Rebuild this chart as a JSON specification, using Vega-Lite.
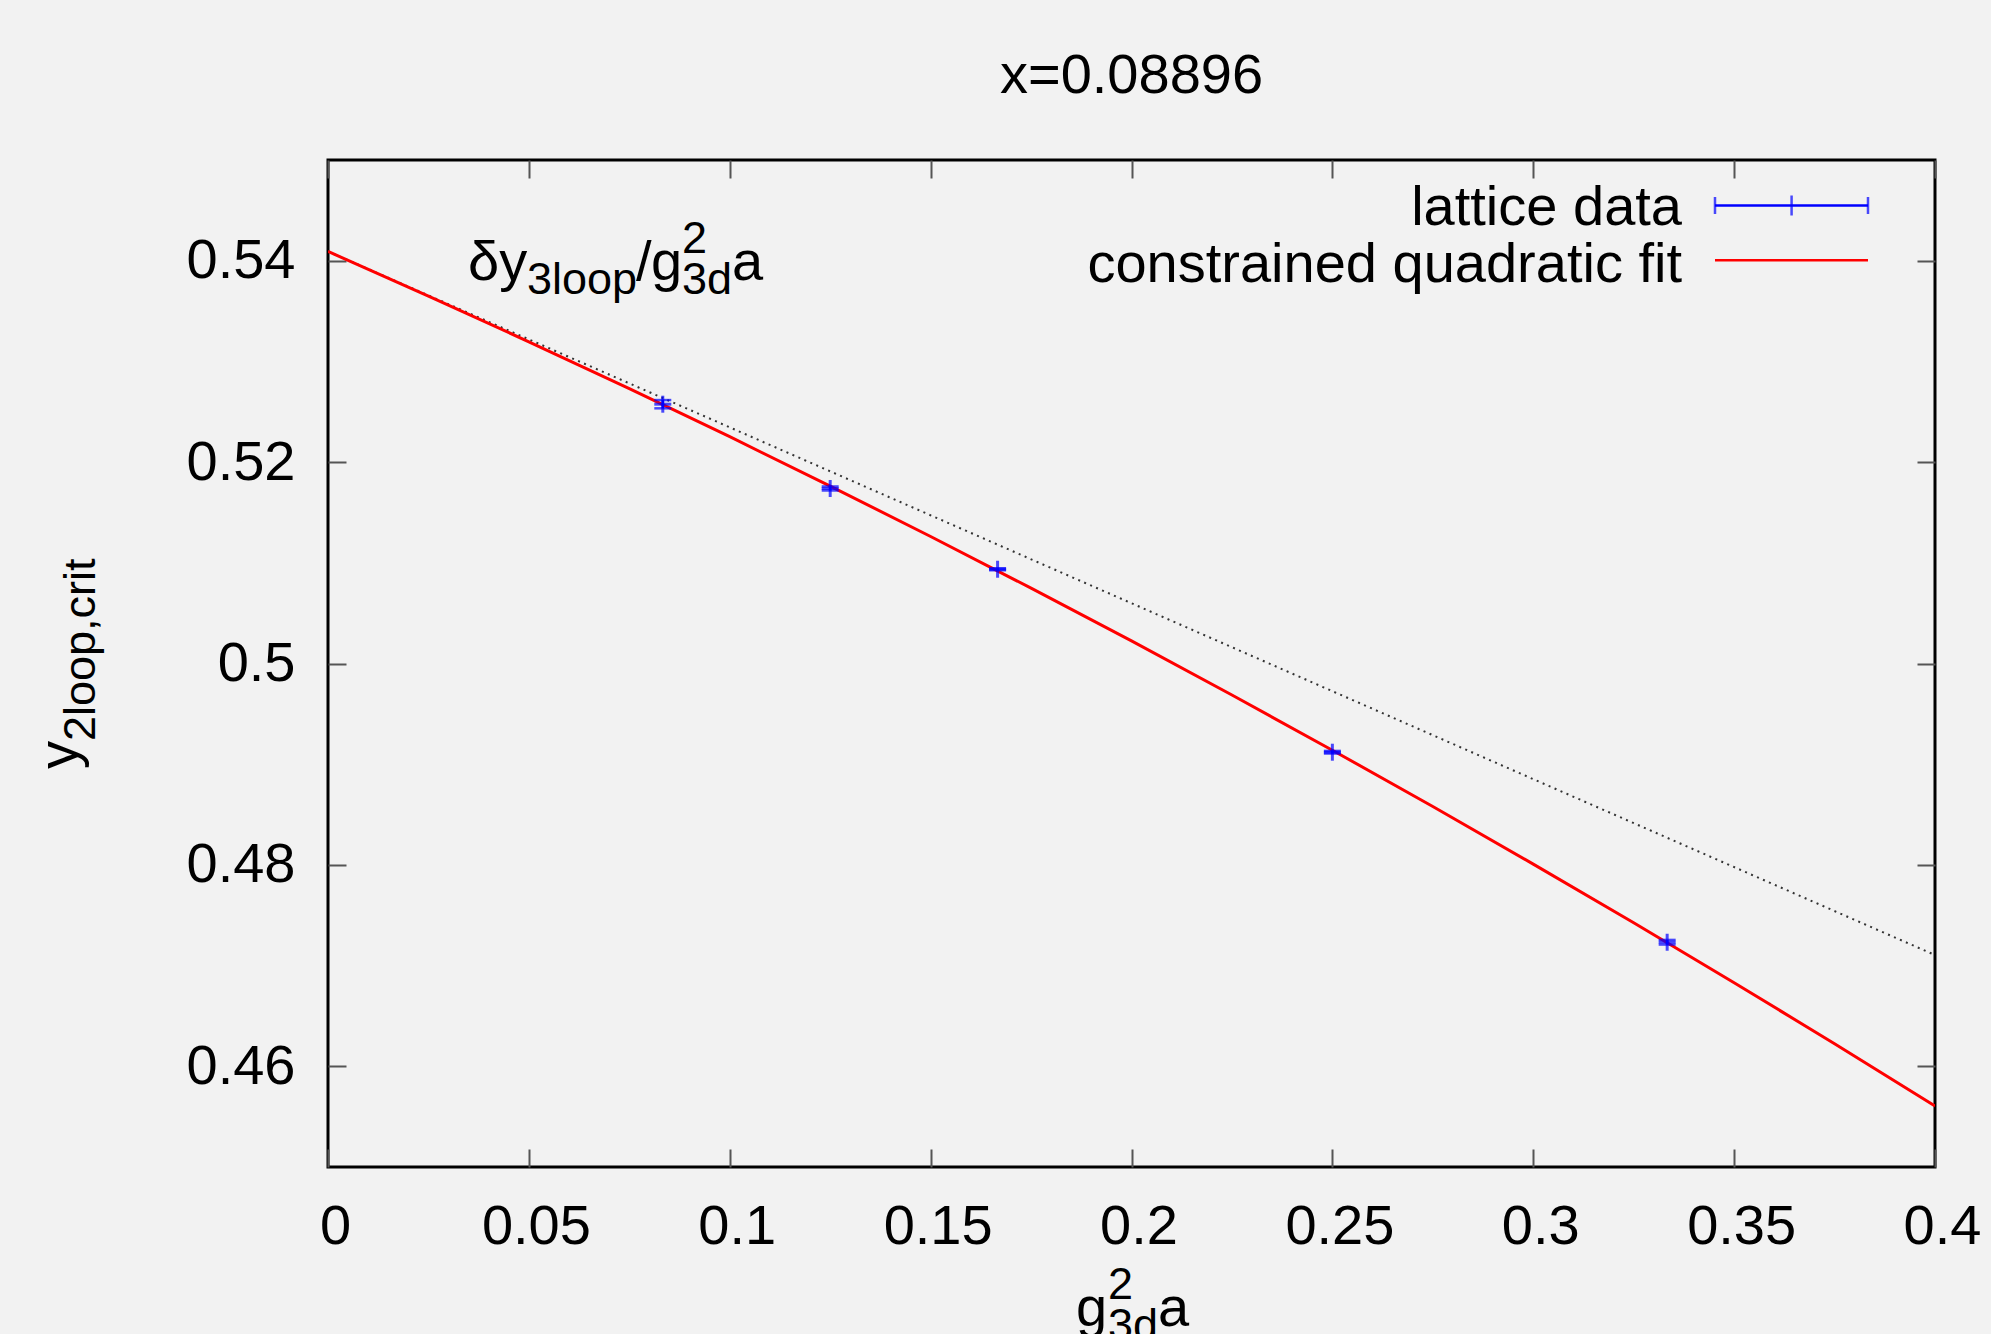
{
  "$schema": "https://vega.github.io/schema/vega-lite/v6.json",
  "width": 1607,
  "height": 1007,
  "autosize": "none",
  "padding": {"left": 328, "top": 160, "right": 56, "bottom": 167},
  "background": "#f2f2f2",
  "config": {
    "view": {"stroke": "black", "strokeWidth": 3, "fill": "#f2f2f2"},
    "font": "Liberation Sans"
  },
  "title": {"text": "x=0.08896", "frame": "group", "anchor": "middle", "orient": "top", "offset": 10, "baseline": "alphabetic", "fontSize": 56, "font": "Liberation Sans", "fontWeight": "normal", "color": "black"},
  "datasets": {
    "lin": [{"x": 0, "y": 0.54092}, {"x": 0.4, "y": 0.47105}],
    "fit": [
      {"x": 0, "y": 0.54092}, {"x": 0.025, "y": 0.53649}, {"x": 0.05, "y": 0.53195}, {"x": 0.075, "y": 0.52729},
      {"x": 0.1, "y": 0.52252}, {"x": 0.125, "y": 0.51762}, {"x": 0.15, "y": 0.51261}, {"x": 0.175, "y": 0.50748},
      {"x": 0.2, "y": 0.50224}, {"x": 0.225, "y": 0.49687}, {"x": 0.25, "y": 0.49139}, {"x": 0.275, "y": 0.4858},
      {"x": 0.3, "y": 0.48008}, {"x": 0.325, "y": 0.47425}, {"x": 0.35, "y": 0.4683}, {"x": 0.375, "y": 0.46224},
      {"x": 0.4, "y": 0.45606}
    ],
    "pts": [
      {"x": 0.083333, "y": 0.52575, "ylo": 0.52534, "yhi": 0.52616},
      {"x": 0.125, "y": 0.51738, "ylo": 0.51718, "yhi": 0.51758},
      {"x": 0.166667, "y": 0.50936, "ylo": 0.50926, "yhi": 0.50946},
      {"x": 0.25, "y": 0.49119, "ylo": 0.49106, "yhi": 0.49132},
      {"x": 0.333333, "y": 0.47232, "ylo": 0.47209, "yhi": 0.47255}
    ],
    "legrule": [
      {"series": "lattice data", "x1": 0.345238, "x2": 0.383321, "y": 0.545482},
      {"series": "constrained quadratic fit", "x1": 0.345238, "x2": 0.383321, "y": 0.54004}
    ],
    "legcap": [{"x": 0.345238, "y": 0.545482}, {"x": 0.383321, "y": 0.545482}],
    "legmid": [{"x": 0.364305, "y": 0.545482}],
    "legtext": [
      {"x": 0.337024, "y": 0.543545, "t": "lattice data"},
      {"x": 0.337024, "y": 0.537885, "t": "constrained quadratic fit"}
    ],
    "txt_main": [
      {"x": 0.034847, "y": 0.538083, "t": "δy"},
      {"x": 0.076664, "y": 0.538083, "t": "/"},
      {"x": 0.080398, "y": 0.538083, "t": "g"},
      {"x": 0.10056, "y": 0.538083, "t": "a"},
      {"x": 0.186185, "y": 0.43421, "t": "g"},
      {"x": 0.206595, "y": 0.43421, "t": "a"}
    ],
    "txt_sub": [
      {"x": 0.049533, "y": 0.538083, "t": "3loop"},
      {"x": 0.088114, "y": 0.538083, "t": "3d"},
      {"x": 0.19415, "y": 0.43421, "t": "3d"}
    ],
    "txt_sup": [
      {"x": 0.088114, "y": 0.538083, "t": "2"},
      {"x": 0.19415, "y": 0.43421, "t": "2"}
    ],
    "ytitle_main": [{"x": -0.062476, "y": 0.489523, "t": "y"}],
    "ytitle_sub": [{"x": -0.062476, "y": 0.492304, "t": "2loop,crit"}]
  },
  "layer": [
    {
      "data": {"name": "lin"},
      "mark": {"type": "line", "color": "#333333", "strokeWidth": 2, "strokeDash": [2, 4.5], "clip": true},
      "encoding": {
        "x": {"field": "x", "type": "quantitative", "scale": {"domain": [0, 0.4], "nice": false, "zero": false},
          "axis": {"orient": "bottom", "values": [0, 0.05, 0.1, 0.15, 0.2, 0.25, 0.3, 0.35, 0.4], "labelExpr": "format(datum.value, '~g')",
            "tickSize": -18, "tickColor": "#555555", "tickWidth": 2, "labelPadding": 50, "labelFontSize": 56, "labelFont": "Liberation Sans",
            "labelColor": "black", "labelOffset": 7, "labelBaseline": "top", "labelFlush": false, "labelOverlap": false, "domain": false, "grid": false, "title": null}},
        "y": {"field": "y", "type": "quantitative", "scale": {"domain": [0.45, 0.55], "nice": false, "zero": false},
          "axis": {"orient": "left", "values": [0.46, 0.48, 0.5, 0.52, 0.54], "labelExpr": "format(datum.value, '~g')",
            "tickSize": -18, "tickColor": "#555555", "tickWidth": 2, "labelPadding": 51, "labelFontSize": 56, "labelFont": "Liberation Sans",
            "labelColor": "black", "labelAlign": "right", "labelBaseline": "middle", "labelFlush": false, "labelOverlap": false, "domain": false, "grid": false, "title": null}}
      }
    },
    {
      "data": {"name": "fit"},
      "mark": {"type": "line", "color": "#ff0000", "strokeWidth": 3, "clip": true},
      "encoding": {
        "x": {"field": "x", "type": "quantitative", "scale": {"domain": [0, 0.4], "nice": false, "zero": false},
          "axis": {"orient": "top", "values": [0, 0.05, 0.1, 0.15, 0.2, 0.25, 0.3, 0.35, 0.4], "labels": false,
            "tickSize": -18, "tickColor": "#555555", "tickWidth": 2, "domain": false, "grid": false, "title": null}},
        "y": {"field": "y", "type": "quantitative", "scale": {"domain": [0.45, 0.55], "nice": false, "zero": false},
          "axis": {"orient": "right", "values": [0.46, 0.48, 0.5, 0.52, 0.54], "labels": false,
            "tickSize": -18, "tickColor": "#555555", "tickWidth": 2, "domain": false, "grid": false, "title": null}}
      }
    },
    {
      "data": {"name": "pts"},
      "mark": {"type": "rule", "color": "#0000ff", "strokeWidth": 2.5},
      "encoding": {
        "x": {"field": "x", "type": "quantitative", "axis": null},
        "y": {"field": "ylo", "type": "quantitative", "axis": null},
        "y2": {"field": "yhi"}
      }
    },
    {
      "data": {"name": "pts"},
      "mark": {"type": "tick", "orient": "horizontal", "color": "#0000ff", "size": 17, "thickness": 2.5},
      "encoding": {
        "x": {"field": "x", "type": "quantitative", "axis": null},
        "y": {"field": "ylo", "type": "quantitative", "axis": null}
      }
    },
    {
      "data": {"name": "pts"},
      "mark": {"type": "tick", "orient": "horizontal", "color": "#0000ff", "size": 17, "thickness": 2.5},
      "encoding": {
        "x": {"field": "x", "type": "quantitative", "axis": null},
        "y": {"field": "yhi", "type": "quantitative", "axis": null}
      }
    },
    {
      "data": {"name": "pts"},
      "mark": {"type": "tick", "orient": "horizontal", "color": "#0000ff", "size": 17, "thickness": 3},
      "encoding": {
        "x": {"field": "x", "type": "quantitative", "axis": null},
        "y": {"field": "y", "type": "quantitative", "axis": null}
      }
    },
    {
      "data": {"name": "pts"},
      "mark": {"type": "tick", "orient": "vertical", "color": "#0000ff", "size": 17, "thickness": 3},
      "encoding": {
        "x": {"field": "x", "type": "quantitative", "axis": null},
        "y": {"field": "y", "type": "quantitative", "axis": null}
      }
    },
    {
      "data": {"name": "legrule"},
      "mark": {"type": "rule", "strokeWidth": 2.5},
      "encoding": {
        "x": {"field": "x1", "type": "quantitative", "axis": null},
        "x2": {"field": "x2"},
        "y": {"field": "y", "type": "quantitative", "axis": null},
        "color": {"field": "series", "type": "nominal", "scale": {"domain": ["lattice data", "constrained quadratic fit"], "range": ["#0000ff", "#ff0000"]}, "legend": null}
      }
    },
    {
      "data": {"name": "legcap"},
      "mark": {"type": "tick", "orient": "vertical", "color": "#0000ff", "size": 17, "thickness": 2.5},
      "encoding": {
        "x": {"field": "x", "type": "quantitative", "axis": null},
        "y": {"field": "y", "type": "quantitative", "axis": null}
      }
    },
    {
      "data": {"name": "legmid"},
      "mark": {"type": "tick", "orient": "vertical", "color": "#0000ff", "size": 20, "thickness": 2.5},
      "encoding": {
        "x": {"field": "x", "type": "quantitative", "axis": null},
        "y": {"field": "y", "type": "quantitative", "axis": null}
      }
    },
    {
      "data": {"name": "legtext"},
      "mark": {"type": "text", "align": "right", "baseline": "alphabetic", "fontSize": 56, "font": "Liberation Sans", "color": "black"},
      "encoding": {
        "x": {"field": "x", "type": "quantitative", "axis": null},
        "y": {"field": "y", "type": "quantitative", "axis": null},
        "text": {"field": "t"}
      }
    },
    {
      "data": {"name": "txt_main"},
      "mark": {"type": "text", "align": "left", "baseline": "alphabetic", "fontSize": 56, "font": "Liberation Sans", "color": "black"},
      "encoding": {
        "x": {"field": "x", "type": "quantitative", "axis": null},
        "y": {"field": "y", "type": "quantitative", "axis": null},
        "text": {"field": "t"}
      }
    },
    {
      "data": {"name": "txt_sub"},
      "mark": {"type": "text", "align": "left", "baseline": "alphabetic", "fontSize": 45, "dy": 14, "font": "Liberation Sans", "color": "black"},
      "encoding": {
        "x": {"field": "x", "type": "quantitative", "axis": null},
        "y": {"field": "y", "type": "quantitative", "axis": null},
        "text": {"field": "t"}
      }
    },
    {
      "data": {"name": "txt_sup"},
      "mark": {"type": "text", "align": "left", "baseline": "alphabetic", "fontSize": 45, "dy": -27, "font": "Liberation Sans", "color": "black"},
      "encoding": {
        "x": {"field": "x", "type": "quantitative", "axis": null},
        "y": {"field": "y", "type": "quantitative", "axis": null},
        "text": {"field": "t"}
      }
    },
    {
      "data": {"name": "ytitle_main"},
      "mark": {"type": "text", "align": "left", "baseline": "alphabetic", "angle": 270, "fontSize": 56, "font": "Liberation Sans", "color": "black"},
      "encoding": {
        "x": {"field": "x", "type": "quantitative", "axis": null},
        "y": {"field": "y", "type": "quantitative", "axis": null},
        "text": {"field": "t"}
      }
    },
    {
      "data": {"name": "ytitle_sub"},
      "mark": {"type": "text", "align": "left", "baseline": "alphabetic", "angle": 270, "fontSize": 45, "dy": 18, "font": "Liberation Sans", "color": "black"},
      "encoding": {
        "x": {"field": "x", "type": "quantitative", "axis": null},
        "y": {"field": "y", "type": "quantitative", "axis": null},
        "text": {"field": "t"}
      }
    }
  ],
  "resolve": {"axis": {"x": "independent", "y": "independent"}}
}
